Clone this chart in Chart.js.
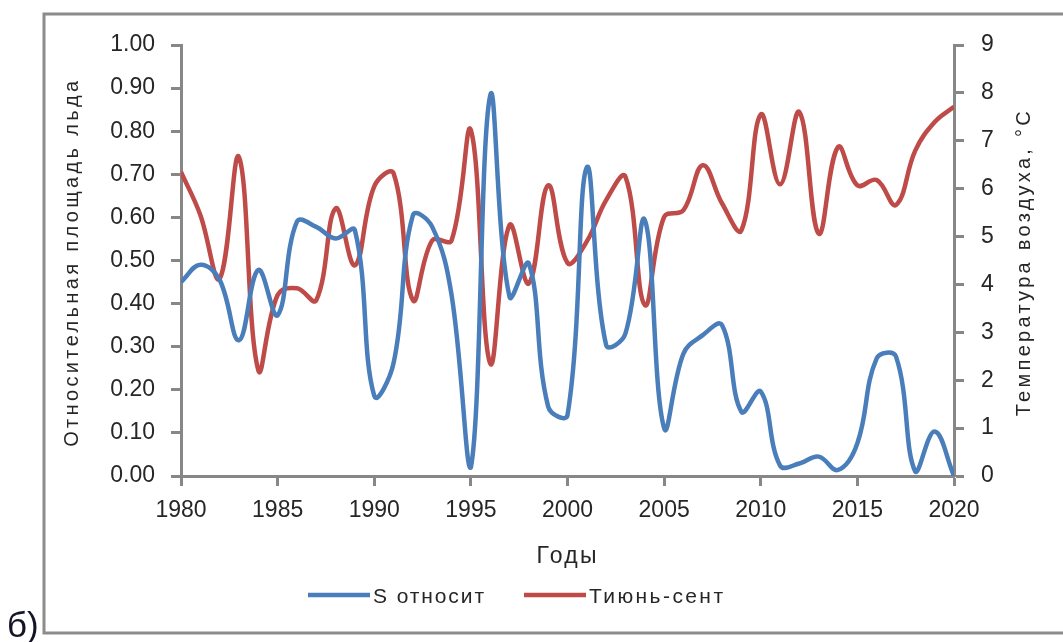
<!DOCTYPE html>
<html>
<head>
<meta charset="utf-8">
<script src="https://cdn.jsdelivr.net/npm/chart.js@4.4.1/dist/chart.umd.min.js"></script>
<style>
  html, body { margin: 0; padding: 0; background: #fff; overflow: hidden; }
  #wrap { width: 1063px; height: 642px; position: relative; }
  canvas { display: block; }
</style>
</head>
<body>
<div id="wrap"><canvas id="c" width="1063" height="642"></canvas></div>
<script>
// Years of observation
const years = [1980, 1981, 1982, 1983, 1984, 1985, 1986, 1987, 1988, 1989,
               1990, 1991, 1992, 1993, 1994, 1995, 1996, 1997, 1998, 1999,
               2000, 2001, 2002, 2003, 2004, 2005, 2006, 2007, 2008, 2009,
               2010, 2011, 2012, 2013, 2014, 2015, 2016, 2017, 2018, 2019, 2020];

// Relative ice area (left axis)
const iceShare = [0.45, 0.49, 0.455, 0.315, 0.478, 0.373, 0.59, 0.578, 0.551, 0.57,
                  0.186, 0.262, 0.605, 0.578, 0.42, 0.02, 0.883, 0.416, 0.493, 0.161,
                  0.141, 0.716, 0.304, 0.331, 0.594, 0.111, 0.284, 0.327, 0.35, 0.149,
                  0.196, 0.024, 0.029, 0.045, 0.014, 0.076, 0.273, 0.277, 0.01, 0.103, 0.0];

// June–September air temperature, °C (right axis)
const tempJunSep = [6.35, 5.45, 4.12, 6.66, 2.21, 3.78, 3.92, 3.67, 5.59, 4.40,
                    6.05, 6.32, 3.67, 4.92, 4.92, 7.22, 2.35, 5.24, 4.02, 6.07,
                    4.45, 4.9, 5.76, 6.25, 3.57, 5.41, 5.55, 6.49, 5.69, 5.13,
                    7.55, 6.09, 7.60, 5.06, 6.87, 6.07, 6.18, 5.66, 6.80, 7.39, 7.71];

// Axis tick values
const yearTicks = [1980, 1985, 1990, 1995, 2000, 2005, 2010, 2015, 2020];
const iceTicks = [0, 0.1, 0.2, 0.3, 0.4, 0.5, 0.6, 0.7, 0.8, 0.9, 1.0];
const tempTicks = [0, 1, 2, 3, 4, 5, 6, 7, 8, 9];

const seriesNames = ['S относит', 'Тиюнь-сент'];
const xTitle = 'Годы';
const leftTitle = 'Относительная площадь льда';
const rightTitle = 'Температура воздуха, °С';
const panelLabel = 'б)';

const BLUE = '#4a7ebb';
const RED = '#be4b48';
const AXIS = '#878787';
const TEXT = '#262626';
const FONT = '"Liberation Sans", Arial, sans-serif';

// Draws a string (optionally rotated) stretched to a given length via letter spacing
function spacedText(ctx, text, cx, cy, size, length, angle) {
  ctx.save();
  ctx.font = size + 'px ' + FONT;
  ctx.letterSpacing = '0px';
  const w = ctx.measureText(text).width;
  const sp = Math.max(0, (length - w) / (text.length - 1));
  ctx.letterSpacing = sp + 'px';
  ctx.translate(cx + (angle ? 0 : sp / 2), cy + (angle ? sp / 2 : 0));
  if (angle) ctx.rotate(angle);
  ctx.textAlign = 'center';
  ctx.textBaseline = 'middle';
  ctx.fillStyle = TEXT;
  ctx.fillText(text, 0, 0);
  ctx.restore();
}

const decorations = {
  id: 'decorations',
  afterDraw(chart) {
    const ctx = chart.ctx;
    const area = chart.chartArea;

    // frame around the figure
    ctx.save();
    ctx.strokeStyle = '#8c8c8c';
    ctx.lineWidth = 3;
    ctx.beginPath();
    ctx.moveTo(1070, 14);
    ctx.lineTo(44, 14);
    ctx.lineTo(44, 633);
    ctx.lineTo(1070, 633);
    ctx.stroke();
    ctx.restore();

    // panel letter
    ctx.save();
    ctx.font = '35px ' + FONT;
    ctx.fillStyle = '#141428';
    ctx.textBaseline = 'alphabetic';
    ctx.fillText(panelLabel, 7, 637);
    ctx.restore();

    // axis titles
    spacedText(ctx, leftTitle, 72, (area.top + area.bottom) / 2, 20, 366, -Math.PI / 2);
    spacedText(ctx, rightTitle, 1024, (area.top + area.bottom) / 2, 20, 305, -Math.PI / 2);
    spacedText(ctx, xTitle, (area.left + area.right) / 2 - 1, 557, 23, 60, 0);

    // legend
    const items = chart.data.datasets.map(d => ({ label: d.label, color: d.borderColor }));
    const lx = [308, 524];
    const textLen = [111, 134];
    items.forEach((it, i) => {
      ctx.save();
      ctx.strokeStyle = it.color;
      ctx.lineWidth = 4.5;
      ctx.beginPath();
      ctx.moveTo(lx[i], 595);
      ctx.lineTo(lx[i] + 62, 595);
      ctx.stroke();
      ctx.restore();
      ctx.save();
      ctx.font = '21px ' + FONT;
      ctx.letterSpacing = '0px';
      const w = ctx.measureText(it.label).width;
      const sp = Math.max(0, (textLen[i] - w) / (it.label.length - 1));
      ctx.letterSpacing = sp + 'px';
      ctx.fillStyle = TEXT;
      ctx.textBaseline = 'alphabetic';
      ctx.textAlign = 'left';
      ctx.fillText(it.label, lx[i] + 65, 603);
      ctx.restore();
    });
  }
};

const tickFont = { family: FONT, size: 23 };

new Chart(document.getElementById('c'), {
  type: 'line',
  data: {
    datasets: [
      {
        label: seriesNames[0],
        data: years.map((yr, i) => ({ x: yr, y: iceShare[i] })),
        borderColor: BLUE,
        backgroundColor: BLUE,
        borderWidth: 4.5,
        pointRadius: 0,
        tension: 0.4,
        yAxisID: 'yL'
      },
      {
        label: seriesNames[1],
        data: years.map((yr, i) => ({ x: yr, y: tempJunSep[i] })),
        borderColor: RED,
        backgroundColor: RED,
        borderWidth: 4.5,
        pointRadius: 0,
        tension: 0.4,
        yAxisID: 'yR'
      }
    ]
  },
  options: {
    responsive: false,
    devicePixelRatio: 1,
    animation: false,
    layout: { padding: { top: 45, left: 0, right: 0, bottom: 0 } },
    plugins: { legend: { display: false }, tooltip: { enabled: false } },
    scales: {
      x: {
        type: 'linear',
        min: years[0],
        max: years[years.length - 1],
        afterBuildTicks: s => { s.ticks = yearTicks.map(v => ({ value: v })); },
        afterFit: s => { s.height = 166; },
        ticks: { font: tickFont, color: TEXT, padding: 11, maxRotation: 0, autoSkip: false,
                 callback: v => String(v) },
        grid: { drawOnChartArea: false, drawTicks: true, tickLength: 10, tickColor: AXIS, tickWidth: 3 },
        border: { color: AXIS, width: 3 }
      },
      yL: {
        position: 'left',
        min: 0,
        max: 1,
        afterBuildTicks: s => { s.ticks = iceTicks.map(v => ({ value: v })); },
        afterFit: s => { s.width = 181; },
        ticks: { font: tickFont, color: TEXT, padding: 16, callback: v => Number(v).toFixed(2) },
        grid: { drawOnChartArea: false, drawTicks: true, tickLength: 10, tickColor: AXIS, tickWidth: 3 },
        border: { color: AXIS, width: 3 }
      },
      yR: {
        position: 'right',
        min: 0,
        max: 9,
        afterBuildTicks: s => { s.ticks = tempTicks.map(v => ({ value: v })); },
        afterFit: s => { s.width = 109; },
        ticks: { font: tickFont, color: TEXT, padding: 17, callback: v => String(v) },
        grid: { drawOnChartArea: false, drawTicks: true, tickLength: 10, tickColor: AXIS, tickWidth: 3 },
        border: { color: AXIS, width: 3 }
      }
    }
  },
  plugins: [decorations]
});
</script>
</body>
</html>
